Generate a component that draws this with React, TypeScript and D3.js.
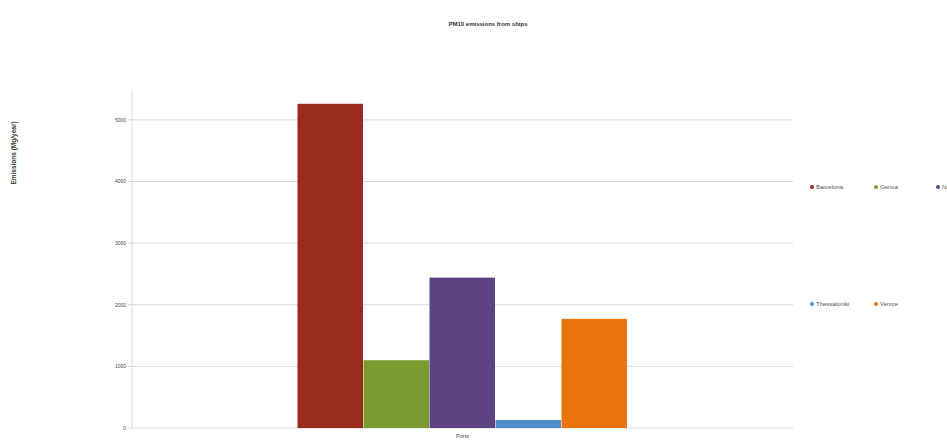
import React from "react";
import * as d3 from "d3";

const categories = ["Ports"];
const seriesNames = ["Barcelona", "Genoa", "Naples", "Thessaloniki", "Venice"];
const seriesValues = [5260, 1100, 2440, 130, 1770];
const seriesColors = ["#9b2a1e", "#7b9a2f", "#5e4383", "#4f8ec9", "#e9730d"];
const yTicks = [0, 1000, 2000, 3000, 4000, 5000];

const W = 947, H = 441;
const left = 132, right = 793, top = 89, bottom = 428;

export default function App() {
  const y = d3.scaleLinear().domain([0, 5500]).range([bottom, top]);
  const x0 = d3.scaleBand().domain(categories).range([left, right]).paddingInner(0).paddingOuter(0.5);
  const catW = right - left;
  const groupW = 330;
  const x1 = d3.scaleBand().domain(seriesNames).range([0, groupW]).padding(0);
  const gx = left + catW / 2 - groupW / 2;

  const legendPos = [
    [812, 187], [876, 187], [938, 187],
    [812, 304], [876, 304],
  ];

  return (
    <svg width={W} height={H} style={{ position: "absolute", left: 0, top: 0, background: "#fff" }}
      fontFamily="Liberation Sans, Arial, sans-serif">
      <text x={488} y={26} textAnchor="middle" fontSize={6} fontWeight="bold" fill="#333">PM10 emissions from ships</text>
      {yTicks.map((t) => (
        <g key={t}>
          <line x1={left} x2={right} y1={y(t)} y2={y(t)} stroke="#d9d9d9" strokeWidth={1} />
          <line x1={left - 4} x2={left} y1={y(t)} y2={y(t)} stroke="#d0d0d0" />
          <text x={left - 6} y={y(t) + 2} textAnchor="end" fontSize={5} fill="#444">{t}</text>
        </g>
      ))}
      <line x1={left} x2={left} y1={top} y2={bottom} stroke="#d9d9d9" />
      {categories.map((c) =>
        seriesNames.map((s, i) => (
          <rect key={s} x={gx + (x1(s) as number)} y={y(seriesValues[i])} width={x1.bandwidth() - 0.5}
            height={bottom - y(seriesValues[i])} fill={seriesColors[i]} />
        ))
      )}
      <text x={(x0("Ports") as number) + x0.bandwidth() / 2} y={438} textAnchor="middle" fontSize={5.5} fill="#444">Ports</text>
      <text transform={`translate(16,153) rotate(-90)`} textAnchor="middle" fontSize={6.5} fontWeight="bold" fill="#333">Emissions (Mg/year)</text>
      {seriesNames.map((s, i) => (
        <g key={s}>
          <circle cx={legendPos[i][0]} cy={legendPos[i][1]} r={2} fill={seriesColors[i]} />
          <text x={legendPos[i][0] + 4} y={legendPos[i][1] + 2} fontSize={6} fill="#555">{s}</text>
        </g>
      ))}
    </svg>
  );
}
